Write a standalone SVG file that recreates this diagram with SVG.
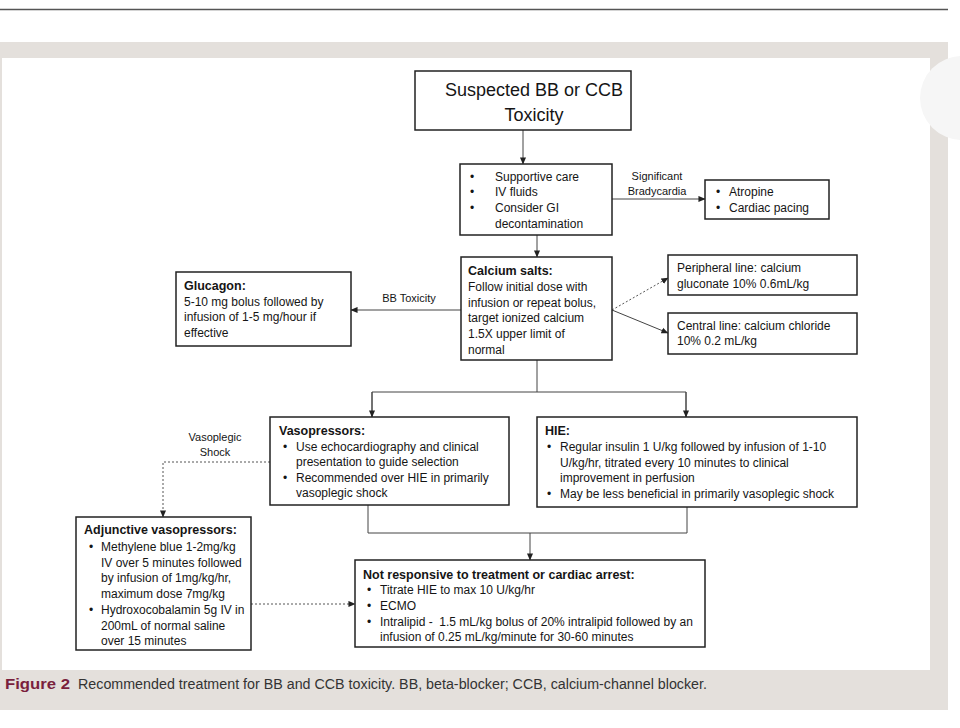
<svg xmlns="http://www.w3.org/2000/svg" width="960" height="728" viewBox="0 0 960 728">
<style>
text{font-family:"Liberation Sans",Arial,sans-serif;fill:#151515;font-size:12px}
.t{font-weight:bold;font-size:12.5px}
.big{font-size:18px}
.lb{font-size:11px}
.box{fill:#fff;stroke:#222;stroke-width:1.5}
.c{fill:none;stroke:#444;stroke-width:1}
.d{fill:none;stroke:#555;stroke-width:1;stroke-dasharray:2,2}
.m{text-anchor:middle}
</style>
<defs>
<marker id="a" viewBox="0 0 8 8" refX="7.5" refY="4" markerWidth="7" markerHeight="7" orient="auto" markerUnits="userSpaceOnUse">
<path d="M0,0.5 L8,4 L0,7.5 z" fill="#222"/>
</marker>
</defs>
<rect width="960" height="728" fill="#fff"/>
<line x1="0" y1="9.5" x2="948" y2="9.5" stroke="#555" stroke-width="1.5"/>
<rect x="0" y="42" width="948" height="668" fill="#e4e0dc"/>
<rect x="2" y="58" width="928" height="612" fill="#fff"/>
<circle cx="962" cy="98" r="42" fill="#f6f6f6"/>

<g id="connectors">
<line class="c" x1="523" y1="130" x2="523" y2="164" marker-end="url(#a)"/>
<line class="c" x1="612" y1="199" x2="705" y2="199" marker-end="url(#a)"/>
<line class="c" x1="537" y1="235" x2="537" y2="257" marker-end="url(#a)"/>
<line class="c" x1="461" y1="310" x2="351" y2="310" marker-end="url(#a)"/>
<line class="d" x1="612" y1="310" x2="668" y2="278" marker-end="url(#a)"/>
<line class="c" x1="612" y1="310" x2="668" y2="333" marker-end="url(#a)"/>
<polyline class="c" points="537,360 537,392"/>
<polyline class="c" points="372,417 372,392 686,392 686,417"/>
<line class="c" x1="372" y1="392" x2="372" y2="417" marker-end="url(#a)"/>
<line class="c" x1="686" y1="392" x2="686" y2="417" marker-end="url(#a)"/>
<polyline class="c" points="368,505 368,533 687,533 687,507"/>
<line class="c" x1="530" y1="533" x2="530" y2="560" marker-end="url(#a)"/>
<polyline class="d" points="270,462 163,462 163,517" marker-end="url(#a)"/>
<line class="d" x1="251" y1="604" x2="355" y2="604" marker-end="url(#a)"/>
<text class="m lb" x="657" y="180">Significant</text>
<text class="m lb" x="657" y="195">Bradycardia</text>
<text class="m lb" x="409" y="302">BB Toxicity</text>
<text class="m lb" x="215" y="441">Vasoplegic</text>
<text class="m lb" x="215" y="456">Shock</text>
</g>

<g id="suspected">
<rect class="box" x="415" y="71" width="216" height="59"/>
<text class="m big" x="534" y="96">Suspected BB or CCB</text>
<text class="m big" x="534" y="121">Toxicity</text>
</g>

<g id="supportive">
<rect class="box" x="460" y="164" width="152" height="71"/>
<text x="470" y="181">•</text><text x="495" y="181">Supportive care</text>
<text x="470" y="196">•</text><text x="495" y="196">IV fluids</text>
<text x="470" y="212">•</text><text x="495" y="212">Consider GI</text>
<text x="495" y="228">decontamination</text>
</g>

<g id="atropine">
<rect class="box" x="705" y="180" width="124" height="39"/>
<text x="716" y="196">•</text><text x="729" y="196">Atropine</text>
<text x="716" y="212">•</text><text x="729" y="212">Cardiac pacing</text>
</g>

<g id="calcium">
<rect class="box" x="461" y="257" width="151" height="103"/>
<text class="t" x="468" y="275">Calcium salts:</text>
<text x="468" y="291">Follow initial dose with</text>
<text x="468" y="307">infusion or repeat bolus,</text>
<text x="468" y="322">target ionized calcium</text>
<text x="468" y="338">1.5X upper limit of</text>
<text x="468" y="354">normal</text>
</g>

<g id="glucagon">
<rect class="box" x="176" y="272" width="175" height="74"/>
<text class="t" x="184" y="290">Glucagon:</text>
<text x="184" y="306">5-10 mg bolus followed by</text>
<text x="184" y="321">infusion of 1-5 mg/hour if</text>
<text x="184" y="337">effective</text>
</g>

<g id="peripheral">
<rect class="box" x="668" y="255" width="189" height="40"/>
<text x="677" y="272">Peripheral line: calcium</text>
<text x="677" y="288">gluconate 10% 0.6mL/kg</text>
</g>

<g id="central">
<rect class="box" x="668" y="313" width="189" height="41"/>
<text x="677" y="330">Central line: calcium chloride</text>
<text x="677" y="345">10% 0.2 mL/kg</text>
</g>

<g id="vasopressors">
<rect class="box" x="270" y="417" width="239" height="88"/>
<text class="t" x="279" y="435">Vasopressors:</text>
<text x="283" y="451">•</text><text x="296" y="451">Use echocardiography and clinical</text>
<text x="296" y="466">presentation to guide selection</text>
<text x="283" y="482">•</text><text x="296" y="482">Recommended over HIE in primarily</text>
<text x="296" y="497">vasoplegic shock</text>
</g>

<g id="hie">
<rect class="box" x="537" y="417" width="320" height="90"/>
<text class="t" x="545" y="435">HIE:</text>
<text x="547" y="451">•</text><text x="560" y="451">Regular insulin 1 U/kg followed by infusion of 1-10</text>
<text x="560" y="467">U/kg/hr, titrated every 10 minutes to clinical</text>
<text x="560" y="482">improvement in perfusion</text>
<text x="547" y="498">•</text><text x="560" y="498">May be less beneficial in primarily vasoplegic shock</text>
</g>

<g id="adjunctive">
<rect class="box" x="76" y="517" width="175" height="133"/>
<text class="t" x="84" y="534">Adjunctive vasopressors:</text>
<text x="89" y="551">•</text><text x="101" y="551">Methylene blue 1-2mg/kg</text>
<text x="101" y="567">IV over 5 minutes followed</text>
<text x="101" y="582">by infusion of 1mg/kg/hr,</text>
<text x="101" y="598">maximum dose 7mg/kg</text>
<text x="89" y="614">•</text><text x="101" y="614">Hydroxocobalamin 5g IV in</text>
<text x="101" y="630">200mL of normal saline</text>
<text x="101" y="645">over 15 minutes</text>
</g>

<g id="notresponsive">
<rect class="box" x="355" y="560" width="350" height="87"/>
<text class="t" x="363" y="579">Not responsive to treatment or cardiac arrest:</text>
<text x="367" y="594">•</text><text x="380" y="594">Titrate HIE to max 10 U/kg/hr</text>
<text x="367" y="610">•</text><text x="380" y="610">ECMO</text>
<text x="367" y="626">•</text><text x="380" y="626" xml:space="preserve">Intralipid -  1.5 mL/kg bolus of 20% intralipid followed by an</text>
<text x="380" y="641">infusion of 0.25 mL/kg/minute for 30-60 minutes</text>
</g>

<g id="caption">
<text x="5" y="689" style="font-size:15px;font-weight:bold;fill:#7a1f3d" textLength="65" lengthAdjust="spacingAndGlyphs">Figure 2</text>
<text x="78" y="689" style="font-size:14px;fill:#333" textLength="629" lengthAdjust="spacingAndGlyphs">Recommended treatment for BB and CCB toxicity. BB, beta-blocker; CCB, calcium-channel blocker.</text>
</g>
</svg>
